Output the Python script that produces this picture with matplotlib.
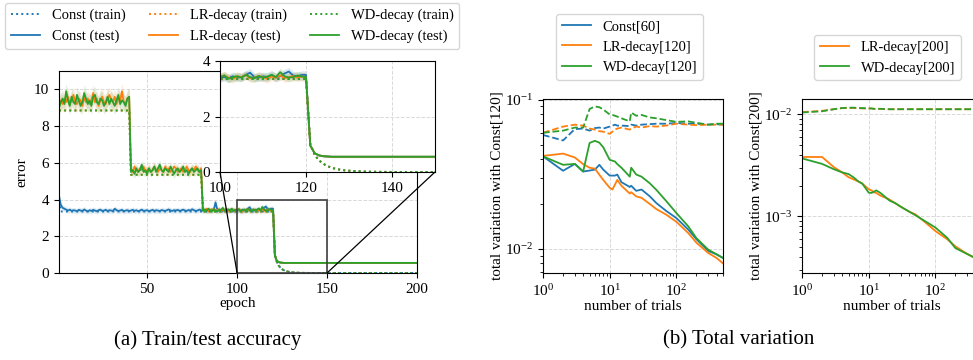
import matplotlib

matplotlib.use("Agg")
import matplotlib.pyplot as plt
import numpy as np
from matplotlib.patches import ConnectionPatch, Rectangle
from matplotlib.ticker import NullFormatter

plt.rcParams["font.family"] = ["Liberation Serif", "DejaVu Serif"]
plt.rcParams["mathtext.fontset"] = "stix"
plt.rcParams["font.size"] = 11

C_BLUE, C_ORANGE, C_GREEN = "#1f77b4", "#ff7f0e", "#2ca02c"

# ── (a) train/test error per epoch ─────────────────────────────────────

epochs = np.arange(1, 201)

test_tail = [0.95, 0.68, 0.6, 0.57, 0.56] + [0.55] * 75
train_tail = [1.0, 0.62, 0.42, 0.3, 0.21, 0.15, 0.11, 0.08, 0.06, 0.045,
              0.035, 0.025, 0.018, 0.013, 0.01, 0.007, 0.005, 0.003, 0.002, 0.001] + [0.0] * 60

const_test = [
    4.2, 3.7, 3.55, 3.5, 3.45, 3.4, 3.45, 3.38, 3.42, 3.4, 3.36, 3.44, 3.4, 3.38, 3.46, 3.4, 3.35, 3.42, 3.38, 3.44,
    3.4, 3.36, 3.42, 3.45, 3.38, 3.4, 3.44, 3.37, 3.42, 3.4, 3.38, 3.5, 3.42, 3.38, 3.4, 3.44, 3.36, 3.4, 3.42, 3.38,
    3.4, 3.44, 3.38, 3.42, 3.36, 3.4, 3.45, 3.38, 3.4, 3.42, 3.36, 3.4, 3.44, 3.38, 3.42, 3.4, 3.37, 3.43, 3.4, 3.38,
    3.42, 3.46, 3.4, 3.38, 3.42, 3.4, 3.44, 3.38, 3.41, 3.45, 3.4, 3.38, 3.43, 3.4, 3.47, 3.42, 3.38, 3.4, 3.45, 3.42,
    3.4, 3.44, 3.38, 3.42, 3.4, 3.46, 3.42, 3.85, 3.45, 3.4, 3.42, 3.38, 3.44, 3.4, 3.42, 3.38, 3.45, 3.4, 3.43, 3.4,
    3.42, 3.38, 3.45, 3.4, 3.42, 3.5, 3.58, 3.42, 3.4, 3.45, 3.42, 3.5, 3.4, 3.45, 3.55, 3.62, 3.48, 3.45, 3.5, 3.5,
] + test_tail

lr_test = [
    9.1, 9.4, 9.2, 9.5, 9.3, 9.6, 9.2, 9.4, 9.7, 9.3, 9.2, 9.5, 9.4, 9.1, 9.6, 9.3, 9.5, 9.2, 9.4, 9.8,
    9.3, 9.5, 9.1, 9.4, 9.6, 9.3, 9.2, 9.5, 9.7, 9.4, 9.3, 9.6, 9.2, 9.5, 9.4, 9.9, 9.3, 9.2, 9.5, 9.6,
    5.7, 5.5, 5.8, 5.6, 5.5, 5.7, 5.6, 5.8, 5.5, 5.6, 5.7, 5.5, 5.6, 5.8, 5.6, 5.5, 5.7, 5.6, 5.5, 5.8,
    5.6, 5.7, 5.5, 5.6, 5.8, 5.7, 5.5, 5.6, 5.7, 5.5, 5.6, 5.8, 5.6, 5.5, 5.7, 5.6, 5.8, 5.6, 5.5, 5.7,
    3.45, 3.4, 3.5, 3.35, 3.45, 3.4, 3.5, 3.38, 3.42, 3.48, 3.35, 3.45, 3.4, 3.5, 3.38, 3.44, 3.4, 3.46, 3.36, 3.42,
    3.48, 3.4, 3.35, 3.45, 3.42, 3.5, 3.38, 3.4, 3.46, 3.42, 3.35, 3.44, 3.4, 3.48, 3.38, 3.42, 3.46, 3.4, 3.44, 3.42,
] + test_tail

wd_test = [
    9.0, 9.3, 9.5, 9.2, 9.9, 9.4, 9.1, 9.6, 9.3, 9.2, 9.7, 9.4, 9.1, 9.3, 9.8, 9.5, 9.2, 9.4, 9.1, 9.6,
    9.7, 9.3, 9.2, 9.5, 9.4, 9.1, 9.3, 9.6, 9.2, 9.5, 9.3, 9.1, 9.4, 9.7, 9.2, 9.4, 9.3, 9.1, 9.5, 9.6,
    5.5, 5.6, 5.4, 5.7, 5.5, 5.6, 5.9, 5.5, 5.6, 5.4, 5.7, 5.5, 5.6, 5.8, 5.5, 5.7, 5.9, 5.6, 5.5, 5.7,
    5.6, 5.5, 5.8, 5.6, 5.4, 5.6, 5.7, 5.5, 5.6, 5.8, 5.5, 5.6, 5.4, 5.6, 5.7, 5.5, 5.6, 5.7, 5.5, 5.6,
    3.4, 3.45, 3.38, 3.5, 3.42, 3.36, 3.48, 3.4, 3.35, 3.45, 3.42, 3.55, 3.4, 3.38, 3.46, 3.42, 3.5, 3.38, 3.44, 3.4,
    3.48, 3.36, 3.42, 3.45, 3.4, 3.5, 3.42, 3.38, 3.46, 3.4, 3.44, 3.5, 3.42, 3.6, 3.45, 3.4, 3.42, 3.48, 3.44, 3.42,
] + test_tail

const_train = [3.9] + [3.35] * 119 + train_tail
decay_train = [8.85] * 40 + [5.35] * 40 + [3.35] * 40 + train_tail

# half-width of the shaded band, per phase (epochs 1-40, 41-80, 81-120, 121-200)
phase_len = [40, 40, 40, 80]
const_band = [0.15, 0.15, 0.15, 0.03]
lr_band = [0.45, 0.25, 0.15, 0.03]
wd_band = [0.45, 0.25, 0.15, 0.03]

# zoomed window (epochs, error)
zoom_x = [100, 150]
zoom_y = [0, 4]

# ── (b) total variation vs number of trials ────────────────────────────

trials = [1, 2, 3, 4, 5, 6, 7, 8, 10, 11, 12, 13, 15, 20, 21, 25, 30, 40, 50, 70, 100, 150, 200, 300, 400, 500]

const60_solid = [0.0417, 0.0334, 0.0371, 0.033, 0.0335, 0.034, 0.0366, 0.034, 0.031, 0.031, 0.031, 0.0315,
                 0.028, 0.026, 0.0265, 0.0245, 0.025, 0.0225, 0.0203, 0.018, 0.0161, 0.0135, 0.0116, 0.0097, 0.0092, 0.0087]
lr120_solid = [0.042, 0.0435, 0.041, 0.037, 0.035, 0.0345, 0.0314, 0.029, 0.0257, 0.025, 0.027, 0.029,
               0.0265, 0.0235, 0.024, 0.0225, 0.022, 0.02, 0.0185, 0.017, 0.0152, 0.0128, 0.011, 0.0094, 0.0087, 0.008]
wd120_solid = [0.0417, 0.0366, 0.0371, 0.033, 0.0513, 0.053, 0.0515, 0.048, 0.0395, 0.039, 0.0385, 0.037,
               0.035, 0.0305, 0.035, 0.0315, 0.0305, 0.0275, 0.0249, 0.021, 0.0174, 0.0142, 0.0118, 0.0099, 0.0092, 0.0087]
const60_dash = [0.058, 0.0533, 0.0635, 0.064, 0.062, 0.0645, 0.065, 0.064, 0.066, 0.067, 0.068, 0.067,
                0.067, 0.0665, 0.068, 0.067, 0.068, 0.0685, 0.069, 0.069, 0.0698, 0.069, 0.069, 0.068, 0.0685, 0.068]
lr120_dash = [0.06, 0.066, 0.068, 0.067, 0.064, 0.063, 0.0615, 0.061, 0.059, 0.061, 0.063, 0.064,
              0.065, 0.063, 0.064, 0.066, 0.065, 0.0665, 0.066, 0.067, 0.069, 0.068, 0.0675, 0.068, 0.068, 0.068]
wd120_dash = [0.06, 0.062, 0.065, 0.065, 0.0866, 0.09, 0.089, 0.086, 0.0795, 0.079, 0.078, 0.077,
              0.075, 0.0715, 0.082, 0.078, 0.079, 0.076, 0.075, 0.073, 0.071, 0.0715, 0.07, 0.068, 0.069, 0.069]

lr200_solid = [0.00382, 0.00382, 0.00304, 0.0027, 0.00242, 0.0023, 0.0022, 0.0021, 0.00185, 0.0018, 0.00172, 0.0017,
               0.0016, 0.00148, 0.00145, 0.00135, 0.00125, 0.00112, 0.00105, 0.00088, 0.00072, 0.0006, 0.00051, 0.00043, 0.00039, 0.00034]
wd200_solid = [0.0037, 0.00327, 0.0029, 0.0027, 0.0026, 0.0024, 0.0022, 0.0021, 0.00171, 0.0017, 0.00175, 0.0018,
               0.0017, 0.00145, 0.00142, 0.00135, 0.00125, 0.00112, 0.00103, 0.0009, 0.00078, 0.00062, 0.00049, 0.00043, 0.00039, 0.00035]
lr200_dash = [0.0105, 0.0108, 0.0112, 0.0115, 0.0115, 0.0115, 0.0115, 0.0114, 0.0114, 0.0114, 0.0113, 0.0113,
              0.0113, 0.0112, 0.0112, 0.0112, 0.0112, 0.0112, 0.0112, 0.0112, 0.0112, 0.0112, 0.0112, 0.0112, 0.0112, 0.0112]
wd200_dash = [0.0104, 0.0107, 0.0112, 0.0115, 0.0116, 0.0116, 0.0115, 0.0115, 0.0114, 0.0114, 0.0113, 0.0113,
              0.0113, 0.0112, 0.0112, 0.0112, 0.0112, 0.0112, 0.0112, 0.0112, 0.0112, 0.0112, 0.0112, 0.0112, 0.0112, 0.0112]


# ── Figure ─────────────────────────────────────────────────────────────

W, H = 973, 360
fig = plt.figure(figsize=(W / 100, H / 100), dpi=100)


def px_axes(x0, y0, x1, y1):
    """Axes from pixel box (left, top, right, bottom)."""
    return fig.add_axes([x0 / W, 1 - y1 / H, (x1 - x0) / W, (y1 - y0) / H])


def draw_error(ax):
    series = [
        (const_test, const_train, const_band, C_BLUE, "Const"),
        (lr_test, decay_train, lr_band, C_ORANGE, "LR-decay"),
        (wd_test, decay_train, wd_band, C_GREEN, "WD-decay"),
    ]
    handles = []
    for test, train, band, color, name in series:
        test = np.array(test)
        hw = np.repeat(band, phase_len)
        ax.fill_between(epochs, test - hw, test + hw, color=color, alpha=0.15, lw=0)
        h1, = ax.plot(epochs, train, ls=":", color=color, lw=1.4, label=f"{name} (train)")
        h2, = ax.plot(epochs, test, ls="-", color=color, lw=1.3, label=f"{name} (test)")
        handles += [h1, h2]
    ax.grid(True, ls="--", color="0.85", lw=0.7)
    return handles


ax = px_axes(59, 71, 417, 273)
handles = draw_error(ax)
ax.set_xlim(1, 200)
ax.set_ylim(0, 11)
ax.set_xticks([50, 100, 150, 200])
ax.set_yticks([0, 2, 4, 6, 8, 10])
ax.set_xlabel("epoch", labelpad=1)
ax.set_ylabel("error", labelpad=4)

axins = px_axes(220, 61, 435, 172)
draw_error(axins)
axins.set_xlim(*zoom_x)
axins.set_ylim(*zoom_y)
axins.set_xticks([100, 120, 140])
axins.set_yticks([0, 2, 4])

# zoom box on the main axes + connectors to the inset's bottom corners
ax.add_patch(Rectangle((zoom_x[0], zoom_y[0]), zoom_x[1] - zoom_x[0], zoom_y[1] - zoom_y[0],
                       fill=False, ec="0.25", lw=1.2, zorder=6, clip_on=False))
for xc in zoom_x:
    fig.add_artist(ConnectionPatch(xyA=(xc, zoom_y[0]), coordsA=ax.transData,
                                   xyB=(xc, zoom_y[0]), coordsB=axins.transData,
                                   color="black", lw=0.9, zorder=6))

fig.legend(handles, [h.get_label() for h in handles], loc="upper left",
           bbox_to_anchor=(5 / W, 1 - 3 / H), ncol=3, fontsize=10.5,
           columnspacing=1.6, handlelength=2.0, borderaxespad=0)


def setup_log(ax, ylim, xlabel, ylabel):
    ax.set_xscale("log")
    ax.set_yscale("log")
    ax.set_xlim(1, 500)
    ax.set_ylim(*ylim)
    ax.yaxis.set_minor_formatter(NullFormatter())
    ax.xaxis.set_minor_formatter(NullFormatter())
    ax.grid(True, which="major", ls="--", color="0.85", lw=0.7)
    ax.set_xlabel(xlabel, labelpad=1)
    ax.set_ylabel(ylabel, labelpad=1)


ax1 = px_axes(543, 99, 723, 273)
s1 = [
    (const60_solid, const60_dash, C_BLUE, "Const[60]"),
    (lr120_solid, lr120_dash, C_ORANGE, "LR-decay[120]"),
    (wd120_solid, wd120_dash, C_GREEN, "WD-decay[120]"),
]
h1 = []
for solid, dash, color, name in s1:
    ax1.plot(trials, dash, ls="--", color=color, lw=1.3)
for solid, dash, color, name in s1:
    h, = ax1.plot(trials, solid, ls="-", color=color, lw=1.3, label=name)
    h1.append(h)
setup_log(ax1, (0.0069, 0.101), "number of trials", "total variation with Const[120]")
fig.legend(handles=h1, loc="upper left", bbox_to_anchor=(556 / W, 1 - 14 / H),
           fontsize=10.5, borderaxespad=0)

ax2 = px_axes(802, 99, 982, 273)
s2 = [
    (lr200_solid, lr200_dash, C_ORANGE, "LR-decay[200]"),
    (wd200_solid, wd200_dash, C_GREEN, "WD-decay[200]"),
]
h2 = []
for solid, dash, color, name in s2:
    ax2.plot(trials, dash, ls="--", color=color, lw=1.3)
for solid, dash, color, name in s2:
    h, = ax2.plot(trials, solid, ls="-", color=color, lw=1.3, label=name)
    h2.append(h)
setup_log(ax2, (0.00028, 0.0141), "number of trials", "total variation with Const[200]")
fig.legend(handles=h2, loc="upper left", bbox_to_anchor=(814 / W, 1 - 35 / H),
           fontsize=10.5, borderaxespad=0)

fig.text(208 / W, 1 - 340 / H, "(a) Train/test accuracy", ha="center", va="center", fontsize=15)
fig.text(739 / W, 1 - 340 / H, "(b) Total variation", ha="center", va="center", fontsize=15)

fig.savefig("out.png", dpi=100)
